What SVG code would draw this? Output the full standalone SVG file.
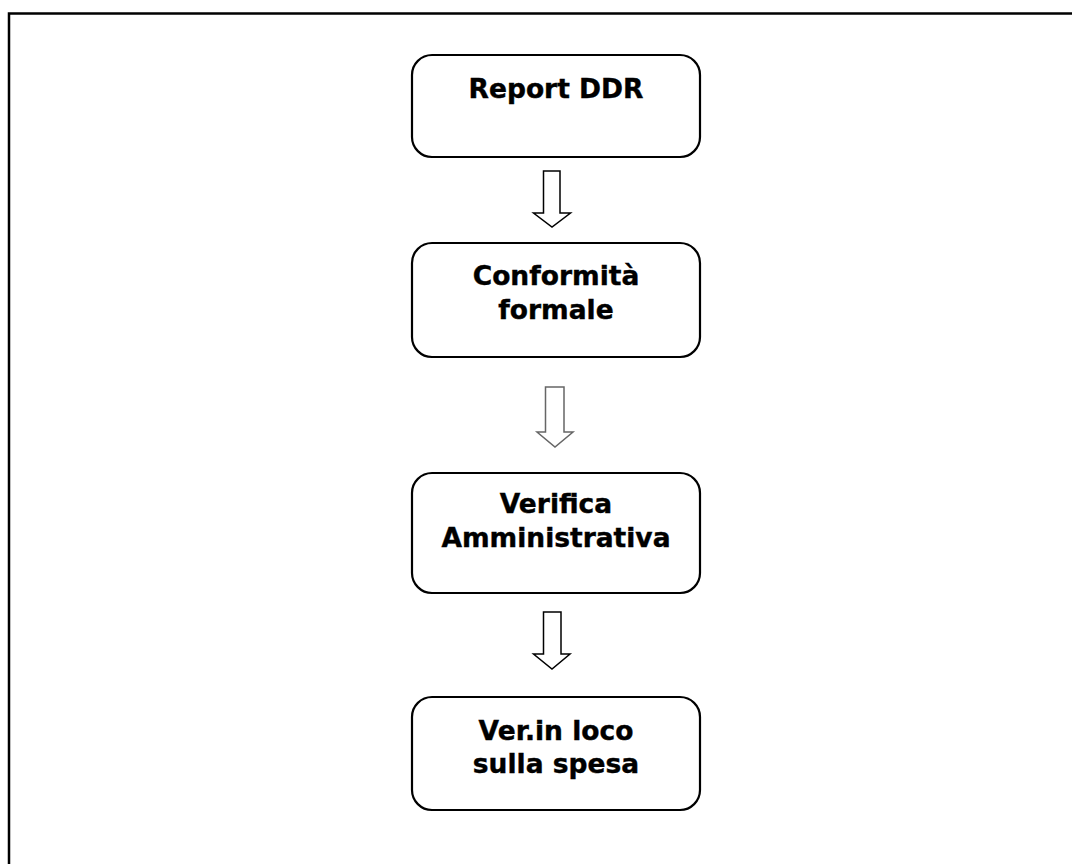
<svg xmlns="http://www.w3.org/2000/svg" width="1072" height="864" viewBox="0 0 1072 864">
<style>
.box{fill:#fff;stroke:#000;stroke-width:2.2}
.lbl{font-family:"DejaVu Sans",Verdana,sans-serif;font-weight:bold;font-size:26.5px;text-anchor:middle;fill:#000;stroke:#000;stroke-width:0.4}
.arr{fill:#fff;stroke:#000;stroke-width:1.5;stroke-linejoin:miter}
</style>
<rect width="1072" height="864" fill="#fff"/>
<g id="frame">
<path d="M9 864 V13.5 H1072" fill="none" stroke="#000" stroke-width="2.5"/>
</g>
<g id="n1">
<rect class="box" x="412" y="55" width="288" height="102" rx="20"/>
<text class="lbl" x="556" y="98">Report DDR</text>
</g>
<g id="n2">
<rect class="box" x="412" y="243" width="288" height="114" rx="20"/>
<text class="lbl" x="556" y="285">Conformità</text>
<text class="lbl" x="556" y="319">formale</text>
</g>
<g id="n3">
<rect class="box" x="412" y="473" width="288" height="120" rx="20"/>
<text class="lbl" x="556" y="513">Verifica</text>
<text class="lbl" x="556" y="547">Amministrativa</text>
</g>
<g id="n4">
<rect class="box" x="412" y="697" width="288" height="113" rx="20"/>
<text class="lbl" x="556" y="740">Ver.in loco</text>
<text class="lbl" x="556" y="773">sulla spesa</text>
</g>
<g id="connectors">
<path class="arr" d="M543.5 171 H560 V213 H570.5 L552 227 L533.5 213 H543.5 Z"/>
<path class="arr" style="stroke:#666" d="M545.5 387 H564 V432 H573 L555 447 L537 432 H545.5 Z"/>
<path class="arr" d="M543.5 612 H561 V654 H570 L552 669 L533.5 654 H543.5 Z"/>
</g>
</svg>
